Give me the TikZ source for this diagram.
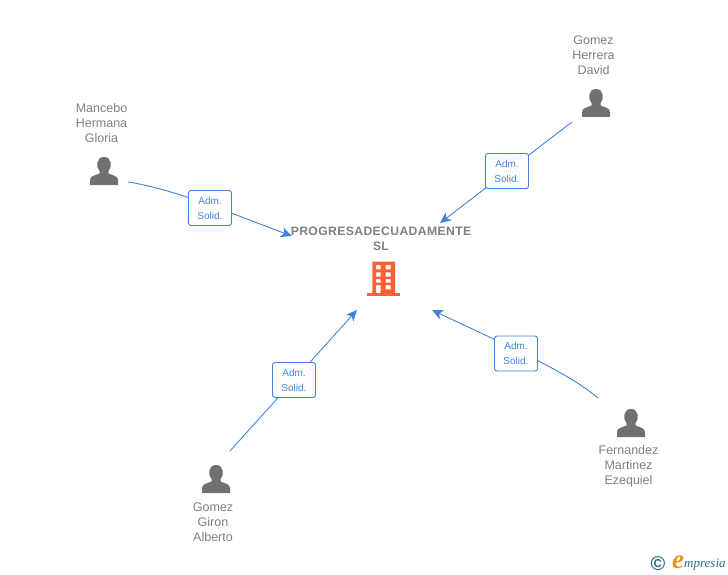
\documentclass[tikz,border=0pt]{standalone}
\usepackage{fontspec}
\setmainfont{Liberation Sans}
\newfontfamily\logofont{Liberation Serif}
\usetikzlibrary{arrows.meta}
\definecolor{txtgray}{HTML}{7F7F7F}
\definecolor{icongray}{HTML}{707070}
\definecolor{linkblue}{HTML}{3F83DC}
\definecolor{bldorange}{HTML}{FF5F33}
\definecolor{logoblue}{HTML}{2F6E8E}
\definecolor{logoorange}{HTML}{F0901E}
\tikzset{
  name label/.style={text=txtgray,font=\fontsize{12.5}{15}\selectfont,align=center,inner sep=0pt},
  role box/.style={draw=linkblue,fill=white,line width=0.9pt,rounded corners=2.5pt,minimum width=43pt,minimum height=35pt,inner sep=0pt,text=linkblue,font=\fontsize{10}{15}\selectfont,align=center},
  link/.style={draw=linkblue,line width=0.9pt,-{Stealth[length=11pt,width=10pt,inset=3pt]}},
  title label/.style={text=txtgray,font=\bfseries\fontsize{12.2}{15}\selectfont,align=center,inner sep=0pt},
  person/.pic={
    \fill[icongray] (-14,14) -- (-14,9) .. controls (-14,5) and (-9,4.5) .. (-4.5,2.5)
      -- (-4.5,0) .. controls (-8,-3) and (-8.5,-14) .. (0,-14)
      .. controls (8.5,-14) and (8,-3) .. (4.5,0) -- (4.5,2.5)
      .. controls (9,4.5) and (14,5) .. (14,9) -- (14,14) -- cycle;
  }
}
\begin{document}
\begin{tikzpicture}[x=1pt,y=-1pt]
\useasboundingbox (0,0) rectangle (728,575);
% persons
\pic at (104,171) {person};
\pic at (596,103) {person};
\pic at (631,423) {person};
\pic at (216,479) {person};
\node[name label] (n1) at (101.5,123) {Mancebo\\Hermana\\Gloria};
\node[name label] (n2) at (593.5,55) {Gomez\\Herrera\\David};
\node[name label] (n3) at (628.5,466) {Fernandez\\Martinez\\Ezequiel};
\node[name label] (n4) at (213,522) {Gomez\\Giron\\Alberto};
% connector ends
\coordinate (s1) at (128,182);
\coordinate (e1) at (292,236);
\coordinate (s2) at (572,122);
\coordinate (e2) at (440,223);
\coordinate (s3) at (598,398);
\coordinate (e3) at (432,310);
\coordinate (s4) at (230,451);
\coordinate (e4) at (357,310);
\draw[link] (s1) .. controls (175,189) and (235,215) .. (e1);
\draw[link] (s2) -- (e2);
\draw[link] (s3) .. controls (565,370) and (495,340) .. (e3);
\draw[link] (s4) -- (e4);
\node[role box] (r1) at (210,208) {Adm.\\Solid.};
\node[role box] (r2) at (507,171) {Adm.\\Solid.};
\node[role box] (r3) at (516,353.5) {Adm.\\Solid.};
\node[role box] (r4) at (294,380) {Adm.\\Solid.};
% centre
\node[title label] (c) at (381,239) {\addfontfeature{LetterSpace=3}PROGRESADECUADAMENTE\\SL};
\fill[bldorange] (367,292.5) rectangle (399.5,295.5);
\fill[bldorange,even odd rule] (372.3,261.7) rectangle (395,293)
  (376,265) rectangle (380.7,269.3) (385.5,265) rectangle (390.7,269.3)
  (376,272.3) rectangle (380.7,276.7) (385.5,272.3) rectangle (390.7,276.7)
  (376,279) rectangle (380.7,282.7) (385.5,279) rectangle (390.7,282.7)
  (376,285) rectangle (380.7,293) (385.5,285) rectangle (390.7,289.3);
% logo
\node[inner sep=0pt,text=logoblue,font=\bfseries\fontsize{20}{20}\selectfont] (copy) at (658,564) {©};
\node[inner sep=0pt,text=logoorange,font=\logofont\itshape\bfseries\fontsize{27}{27}\selectfont] (le) at (678,562) {e};
\node[inner sep=0pt,text=logoblue,font=\logofont\itshape\fontsize{13}{13}\selectfont,anchor=west] (lr) at (684,565) {mpresia};
\end{tikzpicture}
\end{document}
